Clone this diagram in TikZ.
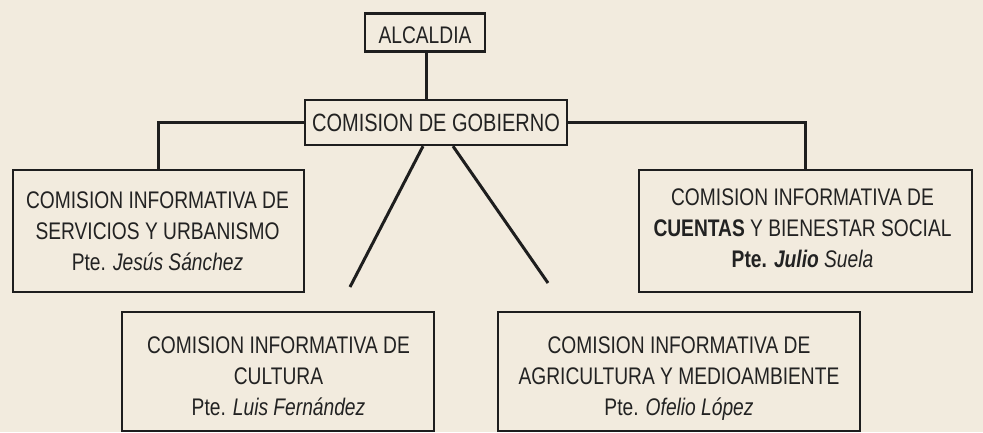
\documentclass[tikz,border=0pt]{standalone}
\usepackage{fontspec}
\setmainfont{Liberation Sans}[FakeStretch=0.8]
\definecolor{paper}{HTML}{F2EBDE}
\definecolor{ink}{HTML}{1E1E1E}
\definecolor{txtc}{HTML}{222222}
\begin{document}
\begin{tikzpicture}[x=1pt,y=-1pt,
  frame/.style={draw=ink,line width=2.4pt,inner sep=0pt},
  lbl/.style={text=txtc,align=center,inner sep=0pt,font=\fontsize{24}{31}\selectfont},
  link/.style={draw=ink,line width=3pt}]
\fill[paper] (0,0) rectangle (983,432);
\useasboundingbox (0,0) rectangle (983,432);
% frames
\node[frame,minimum width=120pt,minimum height=38pt] (alc) at (425,32.5) {};
\node[frame,minimum width=262pt,minimum height=45pt] (gob) at (436,122.5) {};
\node[frame,minimum width=291pt,minimum height=122pt] (lbox) at (158.5,231) {};
\node[frame,minimum width=333pt,minimum height=122pt] (rbox) at (805.5,231) {};
\node[frame,minimum width=312pt,minimum height=119pt] (cbox) at (278,371.5) {};
\node[frame,minimum width=362pt,minimum height=119pt] (abox) at (679,371.5) {};
% texts
\node[lbl] (alct) at (425,35) {ALCALDIA};
\node[lbl,font=\fontsize{25}{28}\selectfont] (gobt) at (436,122.5) {COMISION DE GOBIERNO};
\node[lbl] (lboxt) at (157.5,233.4) {\strut COMISION INFORMATIVA DE\\\strut SERVICIOS Y URBANISMO\\\strut Pte. \textit{Jesús Sánchez}};
\node[lbl] (rboxt) at (802.5,230.4) {\strut COMISION INFORMATIVA DE\\\strut \textbf{CUENTAS} Y BIENESTAR SOCIAL\\\strut \textbf{Pte. \textit{Julio}} \textit{Suela}};
\node[lbl] (cboxt) at (278.5,378.4) {\strut COMISION INFORMATIVA DE\\\strut CULTURA\\\strut Pte. \textit{Luis Fernández}};
\node[lbl] (aboxt) at (679,378.4) {\strut COMISION INFORMATIVA DE\\\strut AGRICULTURA Y MEDIOAMBIENTE\\\strut Pte. \textit{Ofelio López}};
% connectors
\coordinate (dl) at (350,287);
\coordinate (dr) at (548,283);
\draw[link] ([xshift=1.5pt]alc.south) -- ([xshift=1.5pt]alc.south |- gob.north);
\draw[link] (gob.west) -| (lbox.north);
\draw[link] (gob.east) -| (rbox.north);
\draw[link] ([xshift=-13pt]gob.south) -- (dl);
\draw[link] ([xshift=17pt]gob.south) -- (dr);
\end{tikzpicture}
\end{document}
